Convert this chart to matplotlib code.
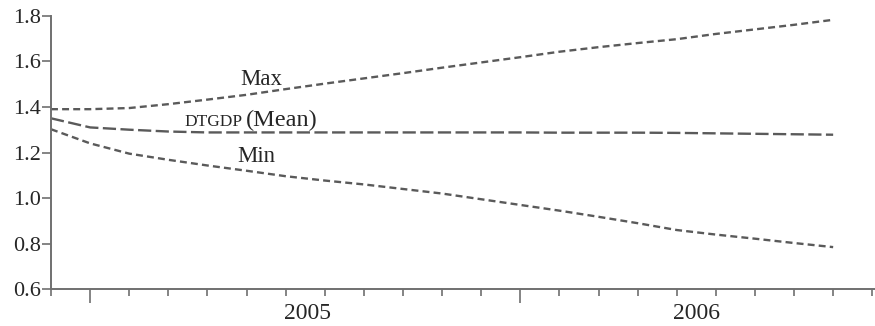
import matplotlib
matplotlib.use("Agg")
import matplotlib.pyplot as plt
from matplotlib.ticker import FixedLocator
import matplotlib.transforms as mtransforms

# monthly observations, index 0 = first month shown
months = list(range(21))
max_vals = [1.390, 1.390, 1.395, 1.412, 1.432, 1.453, 1.478, 1.502, 1.525, 1.548, 1.572,
            1.595, 1.618, 1.642, 1.662, 1.680, 1.697, 1.720, 1.740, 1.760, 1.782]
mean_vals = [1.350, 1.310, 1.300, 1.292, 1.288, 1.288, 1.288, 1.288, 1.288, 1.288, 1.288,
             1.288, 1.288, 1.287, 1.287, 1.287, 1.286, 1.284, 1.282, 1.280, 1.278]
min_vals = [1.302, 1.240, 1.195, 1.168, 1.143, 1.120, 1.096, 1.077, 1.060, 1.040, 1.020,
            0.995, 0.970, 0.945, 0.918, 0.890, 0.860, 0.840, 0.822, 0.803, 0.785]

year_labels = ['2005', '2006']
year_label_pos = [6.55, 16.5]
year_breaks = [1, 12]
y_ticks = [0.6, 0.8, 1.0, 1.2, 1.4, 1.6, 1.8]

line_col = '#5a5a5a'
axis_col = '#707070'
text_col = '#262626'

plt.rcParams['font.family'] = ['Liberation Serif', 'DejaVu Serif']
plt.rcParams['lines.scale_dashes'] = False

fig = plt.figure(figsize=(8.75, 3.26), dpi=100)
ax = fig.add_axes([51 / 875, 36.7 / 326, 824 / 875, 273.6 / 326])

ax.plot(months, max_vals, color=line_col, lw=1.7, dashes=(5, 3))
ax.plot(months, mean_vals, color=line_col, lw=1.7, dashes=(9.5, 3.2))
ax.plot(months, min_vals, color=line_col, lw=1.7, dashes=(5, 3))

ax.set_xlim(0, 21.07)
ax.set_ylim(0.6, 1.8)

for side in ['top', 'right']:
    ax.spines[side].set_visible(False)
for side in ['left', 'bottom']:
    ax.spines[side].set_color(axis_col)
    ax.spines[side].set_linewidth(1.4)

ax.set_yticks(y_ticks)
ax.set_yticklabels(['%.1f' % v for v in y_ticks])
ax.tick_params(axis='y', direction='out', length=6.5, width=1.2, color=axis_col,
               labelsize=16, labelcolor=text_col, pad=1)

ax.xaxis.set_major_locator(FixedLocator(year_breaks))
ax.xaxis.set_minor_locator(FixedLocator(months + [21]))
ax.set_xticklabels([])
ax.tick_params(axis='x', which='major', direction='out', length=10, width=1.2, color=axis_col)
ax.tick_params(axis='x', which='minor', direction='out', length=5, width=1.2, color=axis_col)

trans = mtransforms.blended_transform_factory(ax.transData, ax.transAxes)
for pos, lab in zip(year_label_pos, year_labels):
    ax.text(pos, -0.09, lab, transform=trans, ha='center', va='center',
            fontsize=17, color=text_col)

# series labels
ax.text(5.38, 1.497, 'Max', ha='center', va='baseline', fontsize=16.5, color=text_col)
ax.text(3.42, 1.315, 'DTGDP', ha='left', va='baseline', fontsize=12.5, color=text_col)
ax.text(4.99, 1.315, '(Mean)', ha='left', va='baseline', fontsize=17.5, color=text_col)
ax.text(5.24, 1.160, 'Min', ha='center', va='baseline', fontsize=16.5, color=text_col)

fig.savefig('out.png', dpi=100)
